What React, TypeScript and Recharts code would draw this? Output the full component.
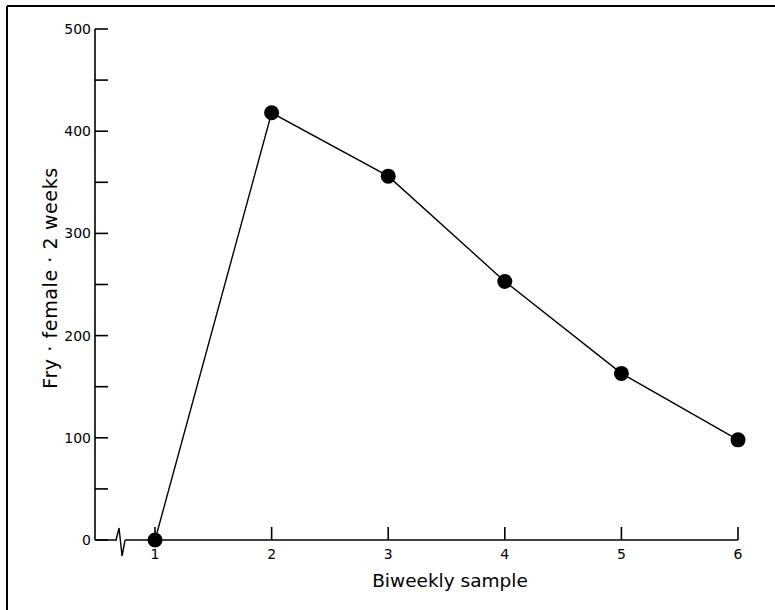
import React from "react";
import { LineChart, Line, XAxis, YAxis } from "recharts";

const samples = [1, 2, 3, 4, 5, 6];
const fryPerFemale = [0, 418, 356, 253, 163, 98];
const yTicks = [0, 50, 100, 150, 200, 250, 300, 350, 400, 450, 500];

const data = samples.map((s, i) => ({ sample: s, fry: fryPerFemale[i] }));

const FONT = "'DejaVu Sans', Verdana, sans-serif";

function YTick(props: any) {
  const { x, y, payload } = props;
  const v = payload.value;
  return (
    <g>
      <line x1={x} y1={y} x2={x + 13} y2={y} stroke="#000" strokeWidth={1.6} />
      {v % 100 === 0 && (
        <text x={x - 4} y={y + 5} textAnchor="end" fontSize={14} fontFamily={FONT} fill="#000">
          {v}
        </text>
      )}
    </g>
  );
}

function XTick(props: any) {
  const { x, y, payload } = props;
  const v = payload.value;
  return (
    <g>
      <line x1={x} y1={y} x2={x} y2={y - 13} stroke="#000" strokeWidth={1.6} />
      <text x={x} y={y + 19} textAnchor="middle" fontSize={14} fontFamily={FONT} fill="#000">
        {v}
      </text>
      {v === 1 && (
        <g>
          <rect x={x - 38} y={y - 3} width={8} height={6} fill="#fff" />
          <path
            d={`M${x - 39},${y} L${x - 36},${y - 12} L${x - 33},${y + 16} L${x - 30},${y}`}
            fill="none"
            stroke="#000"
            strokeWidth={1.4}
          />
        </g>
      )}
    </g>
  );
}

export default function App() {
  return (
    <div
      style={{
        position: "absolute",
        left: 0,
        top: 0,
        width: 775,
        height: 610,
        background: "#fff",
      }}
    >
      <svg width={775} height={610} style={{ position: "absolute", left: 0, top: 0 }}>
        <line x1={7} y1={6} x2={775} y2={6} stroke="#000" strokeWidth={2} />
        <line x1={7} y1={6} x2={7} y2={610} stroke="#000" strokeWidth={2} />
      </svg>
      <div style={{ position: "absolute", left: 0, top: 0 }}>
        <LineChart
          width={775}
          height={610}
          data={data}
          margin={{ top: 29, right: 37, bottom: 0, left: 0 }}
        >
          <XAxis
            dataKey="sample"
            type="number"
            domain={[0.485, 6]}
            ticks={samples}
            tickSize={0}
            tickMargin={0}
            height={70}
            axisLine={{ stroke: "#000", strokeWidth: 1.6 }}
            tickLine={false}
            tick={<XTick />}
            interval={0}
          />
          <YAxis
            type="number"
            domain={[0, 500]}
            ticks={yTicks}
            tickSize={0}
            tickMargin={0}
            width={95}
            axisLine={{ stroke: "#000", strokeWidth: 1.6 }}
            tickLine={false}
            tick={<YTick />}
            interval={0}
          />
          <Line
            dataKey="fry"
            stroke="#000"
            strokeWidth={1.4}
            dot={{ r: 7.5, fill: "#000", stroke: "#000", strokeWidth: 0 }}
            isAnimationActive={false}
          />
        </LineChart>
      </div>
      <div
        style={{
          position: "absolute",
          left: 450,
          top: 580,
          transform: "translate(-50%, -50%)",
          fontFamily: FONT,
          fontSize: 18.5,
          whiteSpace: "nowrap",
        }}
      >
        Biweekly sample
      </div>
      <div
        style={{
          position: "absolute",
          left: 50,
          top: 278,
          transform: "translate(-50%, -50%) rotate(-90deg)",
          fontFamily: FONT,
          fontSize: 19,
          letterSpacing: 0.6,
          whiteSpace: "nowrap",
        }}
      >
        Fry · female · 2 weeks
      </div>
    </div>
  );
}
